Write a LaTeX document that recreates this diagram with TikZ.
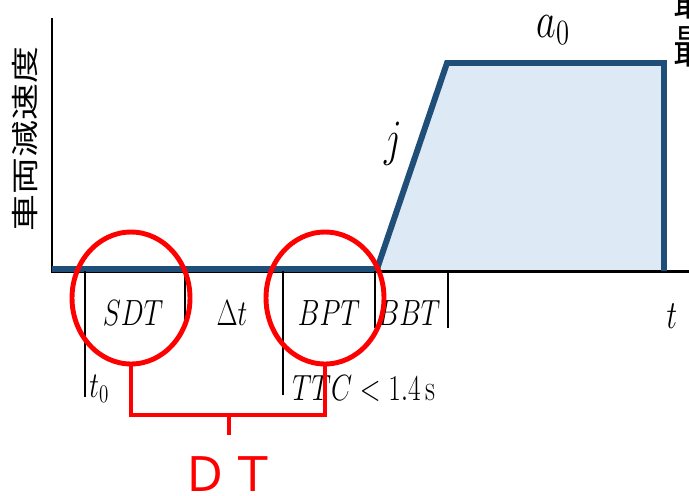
\documentclass[tikz,border=0pt]{standalone}
\usepackage{fontspec}
\usepackage{tikz}
\usetikzlibrary{shapes.geometric}
\newfontfamily\cjk{Noto Sans CJK JP}
\definecolor{curveblue}{RGB}{31,78,121}
\definecolor{areablue}{RGB}{222,233,246}
\definecolor{markred}{RGB}{255,0,0}
\newcommand{\slim}[1]{\scalebox{0.75}[1]{#1}}
\newcommand{\slimbig}[1]{\scalebox{1.05}[1.4]{#1}}

\begin{document}
\begin{tikzpicture}[x=0.02cm, y=-0.02cm,
  axis/.style={line width=1.7pt, black},
  tick/.style={line width=1.5pt, black},
  curve/.style={line width=3.4pt, curveblue, line join=miter},
  ring/.style={ellipse, draw=markred, line width=2.8pt,
               minimum width=2.36cm, minimum height=2.64cm, inner sep=0pt},
  bracket/.style={line width=2.8pt, markred},
  lbl/.style={font=\fontsize{21}{25}\selectfont, inner sep=0pt}]

\clip (0,0) rectangle (689,495);

% deceleration profile
\fill[areablue] (377,271) -- (447,63) -- (664,63) -- (664,271) -- cycle;
\draw[axis] (52,18) -- (52,271) -- (689,271);
\draw[curve] (52,269) -- (377,269) -- (447,63) -- (664,63) -- (664,271);

\node[lbl, anchor=base west] (a0) at (536,37) {\slimbig{$a_0$}};
\node[lbl, anchor=base] (jerk) at (393,155) {\slimbig{$j$}};
\node[lbl, anchor=base] (time) at (672,328) {\scalebox{0.82}[1.1]{$t$}};
\node[inner sep=0pt] (ylab) at (25,139)
  {\slim{\rotatebox{90}{\cjk\fontsize{21}{25}\selectfont 車両減速度}}};
\node[inner sep=0pt, anchor=west, font=\cjk\fontsize{26}{30}\selectfont] (cut1) at (673,-1) {\slim{最}};
\node[inner sep=0pt, anchor=west, font=\cjk\fontsize{26}{30}\selectfont] (cut2) at (673,47) {\slim{最}};

% phases on the time axis
\foreach \x/\y in {85/397, 185/328, 283/395, 375/328, 448/328}
  \draw[tick] (\x,271) -- (\x,\y);

\node[lbl] (sdt) at (133,313) {\slim{$SDT$}};
\node[lbl] (dlt) at (232,313) {\slim{$\Delta t$}};
\node[lbl] (bpt) at (329,313) {\slim{$BPT$}};
\node[lbl] (bbt) at (409,313) {\slim{$BBT$}};
\node[lbl, anchor=base west] (t0) at (89,397) {\slim{$t_0$}};
\node[lbl, anchor=base west] (ttc) at (292,400) {\slim{$TTC<1.4\,\mathrm{s}$}};

% DT marking
\node[ring] (sdtring) at (131,298) {};
\node[ring] (bptring) at (325,298) {};
\coordinate (dtmid) at (229,415);
\draw[bracket] (sdtring.south) |- (dtmid) -| (bptring.south);
\draw[bracket] (dtmid) -- ++(0,20);
\node[inner sep=0pt, text=markred, font=\cjk\fontsize{27}{30}\selectfont] (dt) at (229,474) {ＤＴ};

\end{tikzpicture}
\end{document}
